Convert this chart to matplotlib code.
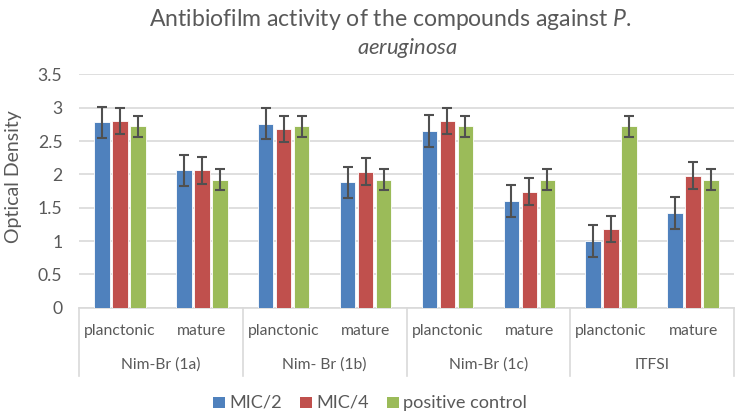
import matplotlib
matplotlib.use("Agg")
import matplotlib.pyplot as plt
from matplotlib.lines import Line2D
from matplotlib.patches import Patch
import numpy as np

plt.rcParams['font.family'] = ['Lato', 'DejaVu Sans']
plt.rcParams['mathtext.fontset'] = 'custom'
plt.rcParams['mathtext.rm'] = 'Lato'
plt.rcParams['mathtext.it'] = 'Lato:italic'

groups = ['Nim-Br (1a)', 'Nim- Br (1b)', 'Nim-Br (1c)', 'ITFSI']
stages = ['planctonic', 'mature']
series = ['MIC/2', 'MIC/4', 'positive control']

mic2 = [2.78, 2.06, 2.76, 1.88, 2.65, 1.60, 1.00, 1.42]
mic4 = [2.80, 2.06, 2.68, 2.04, 2.80, 1.74, 1.18, 1.98]
pos_ctrl = [2.72, 1.92, 2.72, 1.92, 2.72, 1.92, 2.72, 1.92]
err_mic2 = [0.235] * 8
err_mic4 = [0.20] * 8
err_pos = [0.155] * 8

colors = ['#4F81BD', '#C0504D', '#9BBB59']
txt = '#595959'

W, H = 735, 417
fig = plt.figure(figsize=(W / 100, H / 100), dpi=100)
ax = fig.add_axes([79 / W, 1 - 307.7 / H, 655 / W, (307.7 - 74.4) / H])
renderer = fig.canvas.get_renderer()


def fit(texts, target, vertical=False):
    # scale font size so the first text spans `target` pixels
    bb = texts[0].get_window_extent(renderer)
    cur = bb.height if vertical else bb.width
    size = texts[0].get_fontsize() * target / cur
    for t in texts:
        t.set_fontsize(size)
    return size


x = np.arange(len(mic2))
step = 0.22
for i, (vals, errs) in enumerate(zip([mic2, mic4, pos_ctrl], [err_mic2, err_mic4, err_pos])):
    ax.bar(x + (i - 1) * step, vals, width=0.19, color=colors[i], edgecolor='white',
           linewidth=0.6, yerr=errs, capsize=3.4,
           error_kw=dict(ecolor='#505050', elinewidth=1.5, capthick=1.5), zorder=3)

ax.set_xlim(-0.5, len(mic2) - 0.5)
ax.set_ylim(0, 3.5)
ax.set_yticks(np.arange(0, 3.51, 0.5))
ax.set_yticklabels(['0', '0.5', '1', '1.5', '2', '2.5', '3', '3.5'])
ax.tick_params(axis='y', length=0, pad=12, labelsize=10.5, labelcolor=txt)
ax.set_xticks([])
ax.grid(axis='y', color='#d9d9d9', linewidth=1.2, zorder=0)
for s in ['top', 'right', 'left']:
    ax.spines[s].set_visible(False)
ax.spines['bottom'].set_color('#d9d9d9')
ax.spines['bottom'].set_linewidth(1.2)
ylab = fig.text(13 / W, 1 - 177 / H, 'Optical Density', rotation=90, ha='center',
                va='center', fontsize=13, color=txt)

# two-level category axis
trans = ax.get_xaxis_transform()
y_stage = -(331 - 307.7) / (307.7 - 74.4)
y_group = -(365 - 307.7) / (307.7 - 74.4)
y_bottom = -(376 - 307.7) / (307.7 - 74.4)
stage_txt = []
for k in range(len(mic2)):
    stage_txt.append(ax.text(x[k], y_stage, stages[k % 2], transform=trans, ha='center',
                             va='center', fontsize=10.5, color=txt))
group_txt = []
for g, name in enumerate(groups):
    group_txt.append(ax.text(2 * g + 0.5, y_group, name, transform=trans, ha='center',
                             va='center', fontsize=10.5, color=txt))
for b in np.arange(-0.5, len(mic2), 2):
    ax.add_line(Line2D([b, b], [0, y_bottom], transform=trans, color='#d9d9d9',
                       linewidth=1.2, clip_on=False))

t1 = fig.text(390 / W, 1 - 20 / H, r'Antibiofilm activity of the compounds against $\mathit{P.}$',
              ha='center', va='center', fontsize=15, color=txt)
t2 = fig.text(407 / W, 1 - 47.5 / H, r'$\mathit{aeruginosa}$',
              ha='center', va='center', fontsize=15, color=txt)

handles = [Patch(facecolor=c) for c in colors]
leg = fig.legend(handles, series, loc='center', bbox_to_anchor=(370 / W, 1 - 403 / H), ncol=3,
                 frameon=False, fontsize=11, handlelength=0.75, handleheight=0.75,
                 handletextpad=0.3, columnspacing=1.2, labelcolor=txt)

fig.canvas.draw()
fit([t1], 485)
fit([t2], 101)
fit(stage_txt, 72)
fit(group_txt, 80)
fit([ylab], 133, vertical=True)
tick_size = fit([ax.get_yticklabels()[-1]], 25)
ax.tick_params(axis='y', labelsize=tick_size)
fit(leg.get_texts()[2:] + leg.get_texts()[:2], 123)

fig.savefig('out.png', dpi=100)
